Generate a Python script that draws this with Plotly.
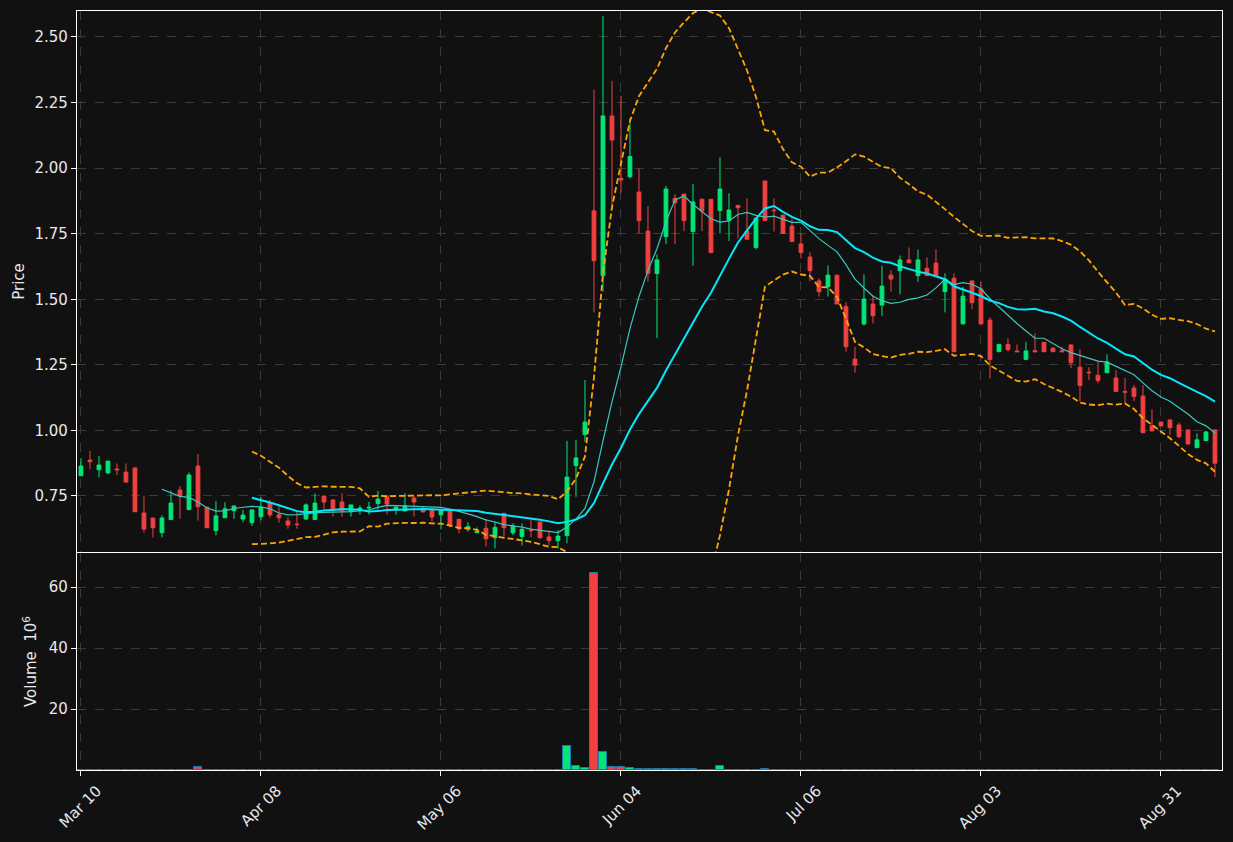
import numpy as np
import pandas as pd
import plotly.graph_objects as go

# ---------------- data ----------------
tick_index = [0, 20, 40, 60, 80, 100, 120]
tick_labels = ["Mar 10", "Apr 08", "May 06", "Jun 04", "Jul 06", "Aug 03", "Aug 31"]

opens = [0.827, 0.887, 0.850, 0.838, 0.853, 0.841, 0.857, 0.685, 0.666, 0.610,
         0.660, 0.773, 0.698, 0.864, 0.707, 0.618, 0.667, 0.694, 0.662, 0.648,
         0.671, 0.725, 0.678, 0.655, 0.643, 0.662, 0.660, 0.750, 0.735, 0.727,
         0.690, 0.699, 0.704, 0.721, 0.747, 0.699, 0.693, 0.742, 0.699, 0.694,
         0.678, 0.694, 0.661, 0.623, 0.610, 0.627, 0.591, 0.684, 0.610, 0.595,
         0.620, 0.651, 0.594, 0.580, 0.599, 0.866, 0.984, 1.837, 1.590, 2.199,
         1.961, 1.967, 1.909, 1.760, 1.598, 1.739, 1.885, 1.901, 1.758, 1.881,
         1.881, 1.838, 1.800, 1.858, 1.760, 1.697, 1.951, 1.840, 1.821, 1.779,
         1.711, 1.661, 1.570, 1.548, 1.592, 1.472, 1.272, 1.406, 1.482, 1.478,
         1.592, 1.609, 1.650, 1.590, 1.618, 1.638, 1.529, 1.580, 1.406, 1.570,
         1.539, 1.421, 1.300, 1.328, 1.303, 1.271, 1.304, 1.336, 1.314, 1.304,
         1.326, 1.241, 1.222, 1.210, 1.220, 1.200, 1.148, 1.162, 1.131, 1.018,
         1.032, 1.040, 1.021, 1.002, 0.934, 0.961, 1.002]
highs = [0.894, 0.922, 0.902, 0.883, 0.874, 0.874, 0.857, 0.749, 0.666, 0.676,
         0.770, 0.788, 0.840, 0.910, 0.707, 0.731, 0.726, 0.712, 0.697, 0.697,
         0.747, 0.735, 0.712, 0.669, 0.690, 0.722, 0.760, 0.750, 0.735, 0.760,
         0.716, 0.714, 0.728, 0.769, 0.747, 0.708, 0.760, 0.750, 0.712, 0.703,
         0.699, 0.694, 0.661, 0.650, 0.630, 0.661, 0.652, 0.684, 0.646, 0.646,
         0.661, 0.651, 0.619, 0.620, 0.960, 0.963, 1.192, 2.300, 2.580, 2.332,
         2.276, 2.190, 1.998, 1.855, 1.671, 1.932, 1.901, 1.901, 1.940, 1.885,
         1.881, 2.041, 1.904, 1.858, 1.885, 1.809, 1.951, 1.885, 1.821, 1.809,
         1.751, 1.679, 1.580, 1.629, 1.592, 1.488, 1.319, 1.595, 1.516, 1.628,
         1.611, 1.667, 1.698, 1.690, 1.660, 1.690, 1.599, 1.599, 1.548, 1.570,
         1.567, 1.432, 1.328, 1.351, 1.328, 1.338, 1.370, 1.336, 1.314, 1.319,
         1.326, 1.309, 1.241, 1.266, 1.290, 1.230, 1.200, 1.173, 1.173, 1.080,
         1.032, 1.040, 1.030, 1.002, 0.989, 0.998, 1.002]
lows = [0.827, 0.852, 0.821, 0.833, 0.829, 0.801, 0.690, 0.610, 0.592, 0.592,
        0.660, 0.663, 0.698, 0.656, 0.629, 0.600, 0.667, 0.663, 0.650, 0.636,
        0.657, 0.667, 0.648, 0.625, 0.625, 0.660, 0.660, 0.699, 0.671, 0.671,
        0.671, 0.679, 0.679, 0.697, 0.679, 0.679, 0.693, 0.671, 0.689, 0.652,
        0.623, 0.631, 0.608, 0.614, 0.610, 0.557, 0.550, 0.595, 0.601, 0.561,
        0.592, 0.587, 0.562, 0.550, 0.570, 0.747, 0.957, 1.450, 1.529, 1.850,
        1.906, 1.961, 1.751, 1.567, 1.352, 1.710, 1.711, 1.760, 1.628, 1.760,
        1.678, 1.751, 1.722, 1.732, 1.729, 1.690, 1.800, 1.758, 1.751, 1.720,
        1.656, 1.569, 1.510, 1.510, 1.482, 1.300, 1.220, 1.399, 1.408, 1.437,
        1.529, 1.519, 1.639, 1.567, 1.590, 1.590, 1.450, 1.300, 1.406, 1.462,
        1.406, 1.198, 1.300, 1.300, 1.300, 1.268, 1.300, 1.300, 1.300, 1.300,
        1.237, 1.110, 1.192, 1.180, 1.220, 1.148, 1.103, 1.112, 0.991, 0.998,
        1.017, 0.983, 0.970, 0.948, 0.934, 0.961, 0.821]
closes = [0.864, 0.881, 0.868, 0.883, 0.850, 0.803, 0.690, 0.624, 0.629, 0.666,
          0.723, 0.750, 0.830, 0.709, 0.629, 0.674, 0.701, 0.712, 0.677, 0.697,
          0.707, 0.678, 0.667, 0.639, 0.641, 0.716, 0.723, 0.727, 0.699, 0.694,
          0.716, 0.704, 0.707, 0.738, 0.719, 0.708, 0.713, 0.727, 0.689, 0.670,
          0.694, 0.639, 0.624, 0.633, 0.615, 0.587, 0.630, 0.629, 0.636, 0.623,
          0.618, 0.591, 0.580, 0.597, 0.822, 0.895, 1.032, 1.647, 2.199, 2.107,
          1.955, 2.044, 1.800, 1.599, 1.650, 1.920, 1.868, 1.800, 1.871, 1.837,
          1.678, 1.920, 1.840, 1.849, 1.729, 1.809, 1.800, 1.838, 1.751, 1.720,
          1.678, 1.609, 1.529, 1.592, 1.482, 1.319, 1.249, 1.501, 1.437, 1.550,
          1.577, 1.650, 1.639, 1.650, 1.590, 1.590, 1.577, 1.300, 1.512, 1.487,
          1.406, 1.270, 1.328, 1.308, 1.300, 1.303, 1.300, 1.300, 1.300, 1.300,
          1.258, 1.171, 1.220, 1.190, 1.261, 1.148, 1.146, 1.129, 0.991, 0.998,
          1.017, 1.011, 0.976, 0.948, 0.964, 0.994, 0.875]
# volume in millions (the rest are negligible)
volumes = [0.0] * 127
volume_overrides = {13: 0.9, 54: 7.8, 55: 1.2, 56: 0.55, 57: 64.5, 58: 5.8,
                    59: 0.9, 60: 0.9, 61: 0.55, 62: 0.3, 63: 0.3, 64: 0.3,
                    65: 0.3, 66: 0.3, 67: 0.3, 68: 0.25, 71: 1.2, 76: 0.25}
for k, v in volume_overrides.items():
    volumes[k] = v

# ---------------- styling ----------------
BG = "#111111"
UP = "#00E676"
DOWN = "#F04040"
FONT = "DejaVu Sans"
TXT = "#e8e8e8"
GRID = "#3a3a3a"

x = list(range(len(closes)))
c = pd.Series(closes)
sma10 = c.rolling(10).mean()
sma20 = c.rolling(20).mean()
std20 = c.rolling(20).std(ddof=0)
upper = sma20 + 2 * std20
lower = sma20 - 2 * std20

fig = go.Figure()
fig.add_trace(go.Candlestick(
    x=x, open=opens, high=highs, low=lows, close=closes,
    increasing=dict(line=dict(color=UP, width=1), fillcolor=UP),
    decreasing=dict(line=dict(color=DOWN, width=1), fillcolor=DOWN),
    whiskerwidth=0, xaxis="x", yaxis="y", showlegend=False))

band_line = dict(color="#FFA500", width=1.8, dash="6px,3px")
fig.add_trace(go.Scatter(x=x, y=upper, mode="lines", xaxis="x", yaxis="y",
                         line=band_line, showlegend=False))
fig.add_trace(go.Scatter(x=x, y=lower, mode="lines", xaxis="x", yaxis="y",
                         line=band_line, showlegend=False))
fig.add_trace(go.Scatter(x=x, y=sma10, mode="lines", xaxis="x", yaxis="y",
                         line=dict(color="#3CC8C0", width=1.2), showlegend=False))
fig.add_trace(go.Scatter(x=x, y=sma20, mode="lines", xaxis="x", yaxis="y",
                         line=dict(color="#00E8FF", width=2), showlegend=False))

vol_colors = [UP if cl >= op else DOWN for op, cl in zip(opens, closes)]
fig.add_trace(go.Bar(x=x, y=volumes, xaxis="x2", yaxis="y2", width=0.85,
                     marker=dict(color=vol_colors, line=dict(color="#1f77b4", width=1)),
                     showlegend=False))

price_ticks = [0.75, 1.00, 1.25, 1.50, 1.75, 2.00, 2.25, 2.50]
xr = [-0.44, 126.78]
common_x = dict(range=xr, tickvals=tick_index, showgrid=True, gridcolor=GRID,
                griddash="dash", gridwidth=1, zeroline=False, showline=True,
                linecolor="#ffffff", linewidth=1.2, mirror=True, automargin=False)
fig.update_layout(
    width=1233, height=842,
    paper_bgcolor=BG, plot_bgcolor=BG,
    margin=dict(l=77, r=11, t=11, b=72, autoexpand=False),
    font=dict(family=FONT, color=TXT, size=15),
    boxgap=0.4, bargap=0,
    xaxis=dict(**common_x, domain=[0, 1], anchor="y", showticklabels=False,
               ticks="", rangeslider=dict(visible=False), matches="x2"),
    yaxis=dict(domain=[0.2872, 1], range=[0.5364, 2.599], tickvals=price_ticks,
               ticktext=[f"{v:.2f}" for v in price_ticks], showgrid=True,
               gridcolor=GRID, griddash="dash", zeroline=False, showline=True,
               linecolor="#ffffff", linewidth=1.2, mirror=True, ticks="outside",
               ticklen=5, tickcolor="#ffffff", automargin=False,
               title=dict(text="Price", font=dict(size=15), standoff=6)),
    xaxis2=dict(**common_x, domain=[0, 1], anchor="y2", ticktext=tick_labels,
                ticks="outside", ticklen=5, tickcolor="#ffffff", tickangle=-45,
                tickfont=dict(size=15), ticklabelshift=16),
    yaxis2=dict(domain=[0, 0.2859], range=[0, 71.15], tickvals=[20, 40, 60],
                showgrid=True, gridcolor=GRID, griddash="dash", zeroline=False,
                showline=True, linecolor="#ffffff", linewidth=1.2, mirror=True,
                ticks="outside", ticklen=5, tickcolor="#ffffff", automargin=False,
                title=dict(text="Volume  10<sup>6</sup>", font=dict(size=15), standoff=8)),
)

fig.write_html("out.html", config={"displayModeBar": False},
               post_script="document.body.style.margin='0';"
                           "document.body.style.background='#111111';")
